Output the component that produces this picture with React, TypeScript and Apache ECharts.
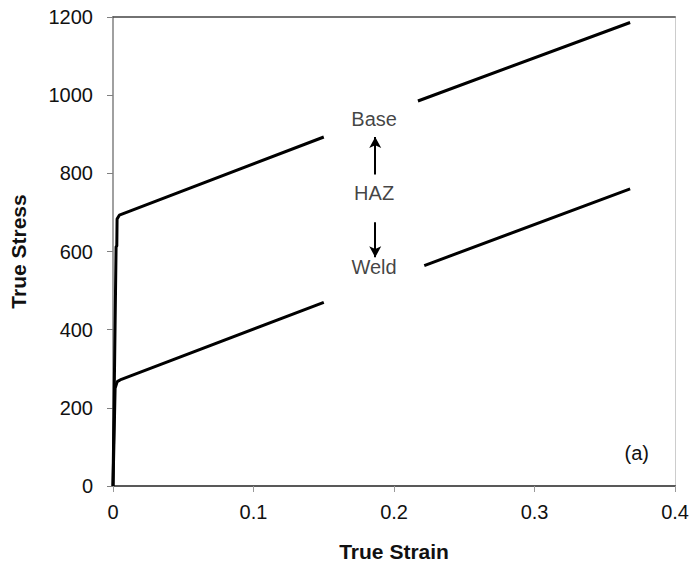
import React, { useEffect, useRef } from "react";
import * as echarts from "echarts";

// Tick values
const strainTicks = [0, 0.1, 0.2, 0.3, 0.4];
const stressTicks = [0, 200, 400, 600, 800, 1000, 1200];

// Base metal curve (null = hidden behind the label box)
const baseStrain = [0, 0.0022, 0.0027, 0.0029, 0.0045, 0.15, 0.185, 0.217, 0.368];
const baseStress = [0, 612, 614, 683, 693, 893, null, 985, 1186];

// Weld metal curve
const weldStrain = [0, 0.0015, 0.003, 0.006, 0.15, 0.185, 0.2215, 0.368];
const weldStress = [0, 250, 267, 273, 470, null, 564, 760];

// Annotation texts
const noteNames = ["Base", "HAZ", "Weld"];
const noteStrain = [0.1858, 0.1858, 0.1858];
const noteStress = [940, 749, 561];

// Arrows (strain, from stress, to stress)
const arrowStrain = [0.1866, 0.1866];
const arrowFrom = [797, 675];
const arrowTo = [893, 585];

const panelLabel = "(a)";

export default function App() {
  const ref = useRef<HTMLDivElement>(null);
  useEffect(() => {
    if (!ref.current) return;
    const chart = echarts.init(ref.current, null, { renderer: "svg" });
    const toPairs = (xs: number[], ys: (number | null)[]) =>
      xs.map((x, i) => (ys[i] === null ? [x, "-"] : [x, ys[i]]));
    const font = "Liberation Sans, Arial, sans-serif";
    chart.setOption({
      animation: false,
      backgroundColor: "#ffffff",
      grid: { left: 113, right: 16, top: 17, bottom: 80, containLabel: false },
      xAxis: [
        {
          type: "value",
          min: strainTicks[0],
          max: strainTicks[strainTicks.length - 1],
          interval: 0.1,
          name: "True Strain",
          nameLocation: "middle",
          nameGap: 55,
          nameTextStyle: { fontFamily: font, fontWeight: "bold", fontSize: 21, color: "#111" },
          axisLine: { show: true, lineStyle: { color: "#595959", width: 2 } },
          axisTick: { show: true, length: 6, lineStyle: { color: "#999", width: 1 } },
          axisLabel: {
            fontFamily: font,
            fontSize: 20,
            color: "#111",
            margin: 16,
            formatter: (v: number) => String(v),
          },
          splitLine: { show: false },
        },
        {
          type: "value",
          position: "top",
          min: 0,
          max: 0.4,
          axisLine: { show: true, onZero: false, lineStyle: { color: "#444", width: 1.5 } },
          axisTick: { show: false },
          axisLabel: { show: false },
          splitLine: { show: false },
        },
      ],
      yAxis: [
        {
          type: "value",
          min: stressTicks[0],
          max: stressTicks[stressTicks.length - 1],
          interval: 200,
          name: "True Stress",
          nameLocation: "middle",
          nameGap: 84,
          nameTextStyle: { fontFamily: font, fontWeight: "bold", fontSize: 21, color: "#111" },
          axisLine: { show: true, lineStyle: { color: "#808080", width: 1.5 } },
          axisTick: { show: true, length: 6, lineStyle: { color: "#808080", width: 1 } },
          axisLabel: {
            fontFamily: font,
            fontSize: 20,
            color: "#111",
            margin: 20,
            formatter: (v: number) => String(v),
          },
          splitLine: { show: false },
        },
        {
          type: "value",
          position: "right",
          min: 0,
          max: 1200,
          axisLine: { show: true, onZero: false, lineStyle: { color: "#cccccc", width: 1 } },
          axisTick: { show: false },
          axisLabel: { show: false },
          splitLine: { show: false },
        },
      ],
      series: [
        {
          name: "Base",
          type: "line",
          data: toPairs(baseStrain, baseStress),
          showSymbol: false,
          symbol: "none",
          connectNulls: false,
          lineStyle: { color: "#000", width: 3 },
          z: 3,
        },
        {
          name: "Weld",
          type: "line",
          data: toPairs(weldStrain, weldStress),
          showSymbol: false,
          symbol: "none",
          connectNulls: false,
          lineStyle: { color: "#000", width: 3 },
          z: 3,
        },
        {
          name: "notes",
          type: "scatter",
          symbolSize: 0,
          data: noteNames.map((n, i) => ({ name: n, value: [noteStrain[i], noteStress[i]] })),
          label: {
            show: true,
            position: "inside",
            formatter: "{b}",
            fontFamily: font,
            fontSize: 20,
            color: "#111",
          },
          emphasis: { disabled: true },
          silent: true,
          markLine: {
            silent: true,
            symbol: ["none", "arrow"],
            symbolSize: [9, 11],
            label: { show: false },
            lineStyle: { color: "#000", width: 2, type: "solid" },
            data: arrowStrain.map((x, i) => [
              { coord: [x, arrowFrom[i]] },
              { coord: [x, arrowTo[i]] },
            ]),
          },
        },
      ],
      graphic: [
        {
          type: "text",
          right: 43,
          top: 443,
          style: { text: panelLabel, font: `20px ${font}`, fill: "#111" },
        },
      ],
    });
    return () => chart.dispose();
  }, []);
  return (
    <div
      ref={ref}
      style={{ position: "absolute", left: 0, top: 0, width: 692, height: 567 }}
    />
  );
}
